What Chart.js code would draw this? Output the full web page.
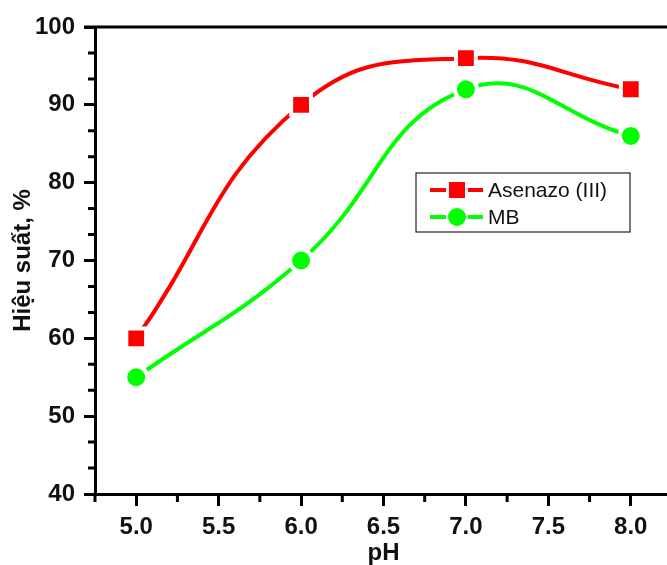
<!DOCTYPE html>
<html>
<head>
<meta charset="utf-8">
<script src="https://cdn.jsdelivr.net/npm/chart.js@4.4.1/dist/chart.umd.min.js"></script>
<style>
  html, body { margin: 0; padding: 0; background: #fff; overflow: hidden; }
  #wrap { width: 667px; height: 565px; overflow: hidden; }
</style>
</head>
<body>
<div id="wrap"><canvas id="phChart" width="680" height="565"></canvas></div>
<script>
const phValues = [5.0, 6.0, 7.0, 8.0];
const asenazoYield = [60, 90, 96, 92];
const mbYield = [55, 70, 92, 86];
const seriesNames = ["Asenazo (III)", "MB"];
const xTicks = [5.0, 5.5, 6.0, 6.5, 7.0, 7.5, 8.0];
const yTicks = [40, 50, 60, 70, 80, 90, 100];

const RED = "#ff0000";
const GREEN = "#00ff00";
const FONT = "Arial, 'Liberation Sans', sans-serif";

function points(ys) {
  return phValues.map((x, i) => ({ x, y: ys[i] }));
}

// minor ticks: one between x majors (plus the edges), two between y majors
function xMinor(scale) {
  const out = [];
  for (let v = scale.min; v <= scale.max + 1e-9; v += 0.25) {
    if (!xTicks.some(t => Math.abs(t - v) < 1e-6)) out.push(v);
  }
  return out;
}
function yMinor() {
  const out = [];
  for (let i = 0; i < yTicks.length - 1; i++) {
    const step = (yTicks[i + 1] - yTicks[i]) / 3;
    out.push(yTicks[i] + step, yTicks[i] + 2 * step);
  }
  return out;
}

const framePlugin = {
  id: "frame",
  afterDraw(chart) {
    const { ctx, chartArea: a, scales: { x, y } } = chart;
    ctx.save();
    ctx.strokeStyle = "#000";
    ctx.lineWidth = 3;
    ctx.lineCap = "butt";

    // top frame line
    ctx.beginPath();
    ctx.moveTo(a.left - 11, a.top);
    ctx.lineTo(a.right, a.top);
    ctx.stroke();

    // minor ticks
    ctx.beginPath();
    xMinor(x).forEach(v => {
      const px = x.getPixelForValue(v);
      ctx.moveTo(px, a.bottom);
      ctx.lineTo(px, a.bottom + 8);
    });
    yMinor().forEach(v => {
      const py = y.getPixelForValue(v);
      ctx.moveTo(a.left, py);
      ctx.lineTo(a.left - 7, py);
    });
    ctx.stroke();

    // legend
    const lx = 416, ly = 173, lw = 214, lh = 59;
    ctx.lineWidth = 1.2;
    ctx.strokeStyle = "#222";
    ctx.strokeRect(lx, ly, lw, lh);

    chart.data.datasets.forEach((ds, i) => {
      const cy = ly + 17 + i * 27;
      const mx = 457;
      ctx.strokeStyle = ds.borderColor;
      ctx.lineWidth = 4;
      ctx.beginPath();
      ctx.moveTo(430, cy); ctx.lineTo(mx - 11, cy);
      ctx.moveTo(mx + 11, cy); ctx.lineTo(483, cy);
      ctx.stroke();
      ctx.fillStyle = ds.backgroundColor;
      if (ds.pointStyle === "rect") {
        ctx.fillRect(mx - 8, cy - 8, 16, 16);
      } else {
        ctx.beginPath();
        ctx.arc(mx, cy, 9, 0, Math.PI * 2);
        ctx.fill();
      }
      ctx.fillStyle = "#111";
      ctx.font = "21px " + FONT;
      ctx.textBaseline = "middle";
      ctx.textAlign = "left";
      ctx.fillText(ds.label, 488, cy + 1);
    });
    ctx.restore();
  }
};

new Chart(document.getElementById("phChart"), {
  type: "line",
  data: {
    datasets: [
      {
        label: seriesNames[0],
        data: points(asenazoYield),
        borderColor: RED,
        backgroundColor: RED,
        borderWidth: 4,
        tension: 0.45,
        pointStyle: "rect",
        pointRadius: 14,
        pointHoverRadius: 14,
        pointBackgroundColor: RED,
        pointBorderColor: "#fff",
        pointBorderWidth: 4
      },
      {
        label: seriesNames[1],
        data: points(mbYield),
        borderColor: GREEN,
        backgroundColor: GREEN,
        borderWidth: 4,
        tension: 0.45,
        pointStyle: "circle",
        pointRadius: 11,
        pointHoverRadius: 11,
        pointBackgroundColor: GREEN,
        pointBorderColor: "#fff",
        pointBorderWidth: 4
      }
    ]
  },
  options: {
    responsive: false,
    animation: false,
    events: [],
    layout: { autoPadding: false, padding: { top: 27, right: 8, left: 0, bottom: 0 } },
    plugins: {
      legend: { display: false },
      tooltip: { enabled: false }
    },
    scales: {
      x: {
        type: "linear",
        min: 4.75,
        max: 8.25,
        afterBuildTicks: s => { s.ticks = xTicks.map(v => ({ value: v })); },
        afterFit: s => { s.height = 71; s.paddingLeft = 0; s.paddingRight = 0; },
        border: { display: true, width: 3, color: "#000" },
        grid: { drawOnChartArea: false, drawTicks: true, tickLength: 12, tickWidth: 3, tickColor: "#000" },
        ticks: {
          padding: 7,
          color: "#111",
          font: { family: FONT, size: 24, weight: "bold" },
          callback: v => v.toFixed(1)
        },
        title: {
          display: true,
          text: "pH",
          color: "#111",
          padding: { top: 0, bottom: 0 },
          font: { family: FONT, size: 24, weight: "bold", lineHeight: 1 }
        }
      },
      y: {
        min: 40,
        max: 100,
        afterBuildTicks: s => { s.ticks = yTicks.map(v => ({ value: v })); },
        afterFit: s => { s.width = 95; },
        border: { display: true, width: 3, color: "#000" },
        grid: { drawOnChartArea: false, drawTicks: true, tickLength: 11, tickWidth: 3, tickColor: "#000" },
        ticks: {
          padding: 9,
          color: "#111",
          font: { family: FONT, size: 24, weight: "bold" }
        },
        title: {
          display: true,
          text: "Hiệu suất, %",
          color: "#111",
          padding: { top: 9, bottom: 4 },
          font: { family: FONT, size: 24, weight: "bold", lineHeight: 1.2 }
        }
      }
    }
  },
  plugins: [framePlugin]
});
</script>
</body>
</html>
